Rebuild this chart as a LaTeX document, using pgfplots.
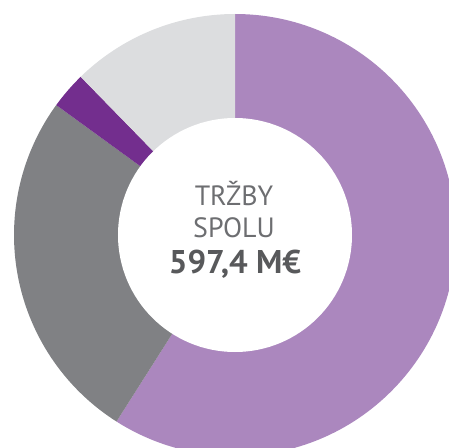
\documentclass[border=0pt]{standalone}
\usepackage{fontspec}
\setmainfont{PT Sans}
\usepackage{pgfplots}
\usepackage{pgfplotstable}
\pgfplotsset{compat=1.18}
\definecolor{cA}{HTML}{AB87BE}
\definecolor{cB}{HTML}{808184}
\definecolor{cC}{HTML}{732E8E}
\definecolor{cD}{HTML}{DCDDDF}
\definecolor{txtL}{HTML}{6D6E71}
\definecolor{txtB}{HTML}{58595B}
% segment values (M EUR), clockwise from 12 o'clock
\pgfplotstableread{
seg value
A 352.5
B 155.3
C 16.1
D 73.5
}\donutdata
\pgfplotstablegetelem{0}{value}\of\donutdata \let\vA\pgfplotsretval
\pgfplotstablegetelem{1}{value}\of\donutdata \let\vB\pgfplotsretval
\pgfplotstablegetelem{2}{value}\of\donutdata \let\vC\pgfplotsretval
\pgfplotstablegetelem{3}{value}\of\donutdata \let\vD\pgfplotsretval
\pgfmathsetmacro\tot{\vA+\vB+\vC+\vD}
\pgfmathsetmacro\aA{90}
\pgfmathsetmacro\aB{90-360*(\vA/\tot)}
\pgfmathsetmacro\aC{\aB-360*(\vB/\tot)}
\pgfmathsetmacro\aD{\aC-360*(\vC/\tot)}
\pgfmathsetmacro\aE{\aD-360*(\vD/\tot)}
\begin{document}
\begin{tikzpicture}
\useasboundingbox (0,0) rectangle (449bp,448bp);
\begin{axis}[
  at={(0,0)}, anchor=south west,
  x=1bp, y=1bp, scale only axis,
  xmin=0, xmax=449, ymin=0, ymax=448,
  hide axis, clip=true,
]
\addplot[draw=none] coordinates {(0,0) (449,448)};
\def\R{221bp}
\fill[cA] (axis cs:235,213) -- ++(\aA:\R) arc[start angle=\aA, end angle=\aB, radius=\R] -- cycle;
\fill[cB] (axis cs:235,213) -- ++(\aB:\R) arc[start angle=\aB, end angle=\aC, radius=\R] -- cycle;
\fill[cC] (axis cs:235,213) -- ++(\aC:\R) arc[start angle=\aC, end angle=\aD, radius=\R] -- cycle;
\fill[cD] (axis cs:235,213) -- ++(\aD:\R) arc[start angle=\aD, end angle=\aE, radius=\R] -- cycle;
\fill[white] (axis cs:235,213) circle[radius=117bp];
\node[anchor=base, inner sep=0pt, font=\fontsize{28}{32}\selectfont, text=txtL] at (axis cs:234,243) {TRŽBY};
\node[anchor=base, inner sep=0pt, font=\fontsize{28}{32}\selectfont, text=txtL] at (axis cs:234,211) {SPOLU};
\node[anchor=base, inner sep=0pt, font=\fontsize{33}{36}\selectfont\bfseries, text=txtB] at (axis cs:235,175) {597,4 M€};
\end{axis}
\end{tikzpicture}
\end{document}
